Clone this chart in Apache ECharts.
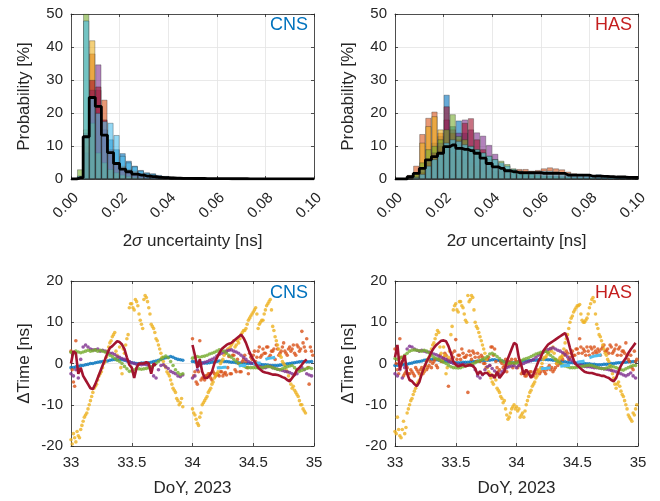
<!DOCTYPE html>
<html><head><meta charset="utf-8">
<script src="https://cdn.jsdelivr.net/npm/echarts@6/dist/echarts.min.js"></script>
<style>html,body{margin:0;padding:0;background:#fff}#c{width:660px;height:501px}</style>
</head><body><div id="c"></div><script>
// ---------- colours ----------
const BLUE='#0072BD',ORANGE='#D95319',YELLOW='#EDB120',PURPLE='#7E2F8E',GREEN='#77AC30',CYAN='#4DBEEE',DRED='#A2142F';

// ---------- histogram data (bin width 0.0025 ns, 0 .. 0.1 ns) ----------
const binWidth = 0.0025;
const cnsBlue   =[0,0.3,8,18,18,15,12,9,7.8,5.5,4,2.7,2,1.7,1.2,0.9,0.7,0.5,0.4,0.3,0.25,0.2,0.15,0.12,0.1,0.1,0.08,0.07,0.06,0.05,0.05,0.04,0.04,0.03,0.03,0.03,0.02,0.02,0.02,0.02];
const cnsOrange =[0,0.5,10,38,27,24,8,5,4,3,2.5,1.8,1.5,1.2,0.9,0.7,0.5,0.4,0.3,0.25,0.2,0.15,0.12,0.1,0.08,0.07,0.06,0.05,0.04,0.04,0.03,0.03,0.03,0.02,0.02,0.02,0.02,0.01,0.01,0.01];
const cnsYellow =[0,0.8,15,42,20,10,5,3,2,1.3,0.9,0.6,0.4,0.3,0.2,0.15,0.1,0.08,0.06,0.05,0.04,0.03,0.03,0.02,0.02,0.02,0.01,0.01,0.01,0.01,0.01,0.01,0,0,0,0,0,0,0,0];
const cnsPurple =[0,0.5,8,27,34.7,15,8,5,3,2,1.4,1,0.7,0.5,0.4,0.3,0.2,0.15,0.1,0.08,0.06,0.05,0.04,0.03,0.03,0.02,0.02,0.02,0.01,0.01,0.01,0.01,0,0,0,0,0,0,0,0];
const cnsDred   =[0,0.5,14,30,28,18,9,5,3,2,1.3,0.9,0.6,0.4,0.3,0.2,0.15,0.1,0.08,0.06,0.05,0.04,0.03,0.03,0.02,0.02,0.02,0.01,0.01,0.01,0.01,0,0,0,0,0,0,0,0,0];
const cnsGreen  =[0,2.9,50,17,8,5,3,2,1.3,0.9,0.6,0.4,0.3,0.2,0.15,0.1,0.08,0.06,0.05,0.04,0.03,0.03,0.02,0.02,0.01,0.01,0.01,0.01,0,0,0,0,0,0,0,0,0,0,0,0];
const cnsCyan   =[0,1,48,25,20,17.5,17,13.3,7,5,3.8,2.5,1.8,1.5,1,0.8,0.6,0.5,0.4,0.3,0.25,0.2,0.15,0.12,0.1,0.08,0.07,0.06,0.05,0.05,0.04,0.04,0.03,0.03,0.03,0.02,0.02,0.02,0.02,0.02];
const cnsMean   =[0,0.4,12.8,24.7,22,13.3,8,4.7,3,2.2,1.5,1.2,0.9,0.7,0.5,0.4,0.3,0.25,0.2,0.2,0.15,0.15,0.12,0.1,0.1,0.1,0.08,0.08,0.07,0.06,0.06,0.05,0.05,0.05,0.04,0.04,0.04,0.03,0.03,0.03];

const hasBlue   =[0,0,0.5,1,3,6,11,13,25.5,16,17.7,14,10,7,5,3.5,2.5,2,1.5,1.3,1.2,1.2,1.2,1.1,1,1,1,1,1,0.9,0.9,0.9,0.8,1.4,0.7,0.6,0.5,0.4,0.3,0.3];
const hasOrange =[0,0.2,1.2,4,13.6,18.5,20.4,14,9,8,7,6,5,4,3.5,3,2.5,2.5,2.4,2.5,3,3,2.5,2.7,3.2,3.5,3.2,2.9,2.2,1.7,1.5,1.2,1,0.9,0.8,0.6,0.5,0.4,0.3,0.3];
const hasYellow =[0,0,0.5,2,11,16,19,15,10,8,6,5,4,3,2.5,2,1.5,1.2,1,0.8,0.6,0.5,0.5,0.4,0.4,0.3,0.3,0.3,0.2,0.2,0.2,0.2,0.1,0.1,0.1,0.1,0.1,0.1,0.1,0.1];
const hasPurple =[0,0,0.3,1,3,6,8,11,18,15,14,18,15,14.1,13.1,10.3,7.6,4.5,3,2,1.5,1.2,1,0.8,0.7,0.6,0.5,0.5,0.4,0.4,0.3,0.3,0.3,0.2,0.2,0.2,0.2,0.1,0.1,0.1];
const hasDred   =[0,0,0,0.5,2,5,8,10,22,14,12,17,18.4,12,9,6,4,3,2,1.5,1.2,1,0.9,0.8,0.7,0.6,0.5,0.5,0.4,0.4,0.3,0.3,0.3,0.2,0.2,0.2,0.1,0.1,0.1,0.1];
const hasGreen  =[0,0,0,1.5,5,9,10,12,15,19.6,13,12,10,9,8,7,6,5.5,4.5,3.2,2.5,2,1.5,1.2,1,0.9,0.8,0.7,0.6,0.5,0.5,0.4,0.4,0.3,0.3,0.3,0.2,0.2,0.2,0.1];
const hasCyan   =[0,0,0.2,0.5,1.5,4,6,8,11,12,11.5,10.5,10,9,8,7,6,5,4,3,2.5,2,2,2.2,2.5,2.5,2.3,2,1.8,1.5,1.3,1.2,1,0.9,0.8,0.6,0.5,0.4,0.3,0.2];
const hasMean   =[0,0,0.7,1.7,3.2,5.8,6.8,7.8,9.8,10.3,9.3,9,8.6,7.8,6.3,4.7,3.7,3.2,2.5,2.2,1.9,1.9,1.9,1.9,1.7,1.7,1.7,1.7,1.2,1.2,1.2,1.2,0.9,0.9,0.8,0.7,0.6,0.6,0.5,0.5];

// ---------- time series (DoY 33.00 .. 34.98, every 0.02 d; "B" sets are the in-between epochs) ----------
const epochStart = 33.0, epochStep = 0.02;
const N=null;
const cnsTBlue=[-1,-1,-0.8,-0.7,-0.5, -0.5,-0.3,-0.2,0,0, 0.2,0.3,0.4,0.5,0.5, 0.6,0.8,0.9,1,1, 1,0.9,0.8,0.6,0.4, 0.2,0.1,0,0,0.1, 0.1,0.1,0.2,0.3,0.5, 0.6,0.8,1,1.2,1.4, 1.5,1.7,1.5,1.2,1, 0.9,0.8,N,N,N,
 0.5,0.4,0.3,0.2,0.2, 0.1,0.1,0.2,0.3,0.4, 0.5,0.6,0.6,0.5,0.5, 0.4,0.3,0.3,0.2,0.2, 0.1,0.1,0,0,0, 0,0,-0.1,-0.2,-0.3, -0.3,-0.4,-0.5,-0.5,-0.5, -0.5,-0.4,-0.3,-0.2,-0.1, 0,0.1,0.2,0.3,0.4, 0.5,0.5,0.4,0.4,0.5];
const cnsTOrange=[3,-4.5,5.5,N,N, N,N,N,N,N, N,N,N,N,N, N,N,N,N,N, N,N,N,N,N, N,N,N,N,N, N,N,N,N,N, N,N,N,N,N, N,N,N,N,N, N,N,N,N,N,
 6,-2,-5,5.5,-3.5, -4,-3,-2.5,-4,-2.5, -2.5,-3,-2,-2.5,-2.8, 1.7,-2.5,2,-2,0, -2,1,0.5,-2.5,1.5, 2,0.5,3,1.5,3.5, 2.5,4,2,3,1, 3.5,2.5,4,3,2, 4,3.5,2.5,4.5,3, 7.8,4,6,-5,3];
const cnsTOrangeB=[-1.5,-5.5,N,N,N, N,N,N,N,N, N,N,N,N,N, N,N,N,N,N, N,N,N,N,N, N,N,N,N,N, N,N,N,N,N, N,N,N,N,N, N,N,N,N,N, N,N,N,N,N,
 -3,-4.5,-2,-4,-3.5, -3,-2.5,-3.5,-2,-3, -2.7,-2,-3,-2.2,-1, -2.5,2,-1.5,1,-2, 0.5,2,-1,2.5,1, 3,1.5,4,2,2.5, 4,1.5,3,3.5,4.5, 2,3,5,2.5,3.5, 3,4.5,2,4,3.5, 5,3,-1,4,2];
const cnsTYellow=[-18.5,-17,-19,-17.5,-16, -14,-12.5,-11,-9,-7, -5.5,-4,-2.5,-1,0.5, 3,5,6.5,7.5,2, 4,-2.5,2.5,6,13.5, 14.5,13,15,12,9.5, 15.5,16,13.5,9.5,8.5, 6,4.5,2.5,0.5,-1, -2.5,-4,-6,-7,-9, -9.5,-10.5,N,N,N,
 -11,-12.5,-14.5,-13,-10, -9,-8,-6.5,-5,-3.5, -2.5,-1,0.5,2,3, 3.5,4.5,5.5,4.5,5, 7,8,8.5,10.5,11.5, 12.5,13.5,8.5,10,10.5, 13,14.5,15.5,9,6.5, 4.5,2,0.5,-0.5,-2, -4,-6,-6.5,-7.5,-9, -10,-11.5,N,N,N];
const cnsTYellowB=[-19.5,-18,-16.5,-18,-15, -13,-12,-10,-8,-6, -5,-3,-2,0,1.5, 4,5.5,7,3,1.5, -1,3.5,4.5,7,14.5, 13.5,15.5,14,10.5,8.5, 16.5,15,12,9,7.5, 5.5,3.5,1.5,-0.5,-2, -3,-5,-6.5,-8.5,-10, -8.5,N,N,N,N,
 -12,-13.5,-15,-12,-9.5, -8.5,-7,-6,-4.5,-3, -2,0,1,2.5,3.5, 4,5,4,5.5,6, 7.5,8,9.5,11,12, 13,12,9.5,10.5,12, 14,15,13,8,5.5, 3.5,1.5,0,-1.5,-3, -5,-5.5,-7,-8,-10, -11,-12,N,N,N];
const cnsTPurple=[-2.5,-3,-1.5,-3.5,1, 4,4.5,4,3.5,3.3, 3.3,3.5,3,3.2,3, 2.8,2.5,2.5,2.2,1.7, 1.5,1.2,1,0.8,0.5, 0.2,0,-0.2,-0.2,-0.3, -0.2,-0.3,-0.5,-1,-3, -3.5,-1.5,-0.5,-0.3,-0.8, -1.2,-1.9,-2.2,-2.5,-3, -3.2,-2.8,N,N,N,
 -3.5,-3,-1.5,-0.5,0, 0.3,0.5,0.8,1,1.3, 1.8,2.2,2.5,2.8,3, 3.2,3.3,3,2.8,2.5, 2,1.5,1,0.5,0.2, 0,-0.3,-0.5,-0.8,-1, -1,-0.8,-0.7,-1,-1.2, -1.4,-1.5,-1.7,-1.9,-2, -2.2,-2.5,-2.7,-2.5,-1.5, -1,-1.5,-2.5,-2.8,-3];
const cnsTGreen=[2.7,2.5,3,2.8,2.6, 2.8,3,3.2,3,3.1, 3.3,3,3.2,3,2.8, 2.5,2,1.7,1.2,0.8, 0.5,0,-0.7,-1.3,-1.9, -1.8,-1.5,-1.3,-1.3,-1.4, -1.3,-1.2,-1,-0.8,-0.5, 0,0.5,1,1.5,1.8, 1.4,0.5,-0.5,-1.5,-2.2, -2.7,-2.5,N,N,N,
 1.3,1.5,1.7,1.5,1.7, 1.8,2,2.3,2.5,2.7, 3,3.3,3.2,3,2.5, 2,1.5,1,0.5,0, -0.3,-0.6,-0.9,-1,-1, -1,-1,-1.1,-1,-1, -0.8,-0.7,-0.8,-1,-1.2, -1.4,-1.5,-1.3,-1,-0.8, -0.6,-0.5,-1,-1.5,-1.9, -1.7,-1.4,-1.2,-1,-1.2];
const cnsTCyan=[N,N,N,N,N, N,N,N,N,N, N,N,N,N,N, N,N,N,N,N, N,N,N,N,N, N,N,N,N,N, N,N,N,N,N, N,N,N,N,N, N,N,N,N,N, N,N,N,N,N,
 N,N,N,N,N, N,N,N,N,N, -1.1,-1,-1,-0.9,-0.9, N,N,N,N,-0.6, -0.5,-0.5,-0.4,N,N, 0,0,0.1,0.1,N, 1,1.2,1.3,1.4,1.5, N,N,N,N,N, N,N,N,N,N, N,N,N,N,N];
const cnsTDred=[0,3,2.5,-2.5,-1, -3,-4,-5,-6,-6.2, -5,-3.5,-2,-0.5,1, 2.5,3.8,4.2,4.8,5.4, 5.2,4.6,3.5,1.5,-0.3, -1,-3.5,-1,0,0, 0,0.3,0,-2.5,0, -0.5,N,N,N,N, N,N,N,N,N, N,N,N,N,N,
 4.5,2,-1,1,-2, -3.5,-3.5,-3,-2,0, 1.3,2.5,3.5,4,4.5, 4.8,5,5.5,6,6.5, 7,6.2,5,3.4,2, 1,0,-1,-1.5,-2, -2.2,-2.3,-2.5,-2.7,-2.7, -2.8,-3,-3.3,-3.5,-4, -4.3,-3.5,-2.7,-1.5,-1, -0.3,0.5,1,N,N];

const hasTBlue=[-0.5,-0.4,-0.4,-0.3,-0.2, -0.2,0,0.1,0.3,0.4, 0.5,0.6,0.8,0.9,1, 1,1,0.9,0.8,0.7, 0.6,0.5,0.4,0.3,0.3, 0.2,0.2,0.2,0.3,0.3, 0.3,0.4,0.5,0.5,0.6, 0.6,0.7,0.7,0.8,0.8, 0.9,0.9,0.8,0.7,0.6, 0.5,0.4,0.3,0.2,0.2,
 0.3,0.4,0.5,0.6,0.6, 0.7,0.7,0.8,0.8,0.9, 0.9,1,1,0.9,0.9, 0.8,0.8,0.7,0.6,0.5, 0.4,0.3,0.2,0.2,0.1, 0.1,0,0,0,-0.1, -0.1,-0.2,-0.2,-0.3,-0.3, -0.3,-0.2,-0.2,-0.1,0, 0,0.1,0.2,0.2,0.3, 0.3,0.4,0.4,0.5,0.5];
const hasTOrange=[3.5,-1.5,6,0.5,-2.5, -1,-2.5,-2,-3,-1.5, -2.5,-1,-2,-1.5,-0.5, -1,0.5,-0.5,1,0.5, 1.5,2,-5.5,1,1.5, 5.8,2,1,2.5,1.5, -7,2,3,1.5,2.5, 0.5,1.5,0,1,-0.5, 4,3.5,-1,-1.5,0, -0.5,-2,0.5,1,0,
 0.5,-0.5,-2.5,-2,-3, -2.5,-2,-3,-2.5,-2, -2,-1.5,-2.5,-1,-1.5, -2,-1,-0.5,0,1, 2,2.5,1.5,3,2, 3.5,6,2.5,3,4, 2,3.5,4,2.5,3, 3.5,4.5,3,2.5,4, 3,4.5,3.5,2,3, 5,1,2,-1.5,0.5];
const hasTOrangeB=[0,-2.5,1.5,-3,-2, -2.5,-1.5,-2.5,-1,-2, -1.5,-2.5,-0.5,-1,0.5, 0,1,-1,2,0.5, 2.5,1,0.5,2.5,3, 1,2,3.5,1.5,2, 3,1,2.5,0.5,1.5, 2,0,-1,1.5,4, 2,0.5,-2,0.5,-1, 1,-0.5,0,-1,1,
 -1,0,-2,-3,-2.5, -2,-3,-2,-1.5,-2.5, -1,-2,-1.5,-0.5,-1, -1.5,0,0.5,1.5,2.5, 3,1,2.5,2,3.5, 2.5,4,3.5,2,3, 4,2.5,3,3.5,2, 4,3,3.5,4.5,2.5, 3.5,2,4,3,2.5, 2,0.5,-1,3,1];
const hasTYellow=[-16.5,-13,-17.5,-16,-17, -12,-10,-8.5,-6.7,-5, -4,-2.5,-1.5,0.5,1.5, 3.5,5,7,7.5,2.5, 4,-2.5,1.5,7,13, 14.5,12.5,15,13.5,10.5, 16.5,15.5,16,10,8.5, 6.5,4.5,2.5,-1,-2.5, -4.5,-3,-6,-7,-8.5, -9,-12.5,-13,-11,-10,
 -10.5,-11,-12.5,-13,-10, -8,-6.5,-5,-3.5,-2, -1,1,1.5,2.5,3.5, 4,1,0.5,1.5,2, 5,7,10,11.5,13, 14,14.3,10.5,10,11, 13.5,15.5,15,9.5,7, 5.5,3.5,2,0.5,-1.5, -3.5,-6,-4.5,-6.7,-8, -10,-12.5,-13.5,-12,-11];
const hasTYellowB=[-17,-16,-18,-14,-15.5, -11,-9,-7.5,-6,-4.5, -3,-2,-0.5,1,2.5, 4.5,6,8,4,1, 2,-1,3,9,14, 13,15,14,12,10, 15,16.5,13,9,7.5, 5.5,3.5,1,-2,-3.5, -5,-4,-6.5,-8,-9.5, -11,-13.5,-12,-10.5,-11,
 -11.5,-13,-12,-11.5,-9, -7,-5.5,-4.5,-3,-1.5, 0,1.5,2,3,3, 2.5,0,1,1.5,3.5, 6,8.5,11,12.5,13.5, 14,12,10,10.5,12, 14.5,16,12,8.5,6.5, 4.5,2.5,1,-0.5,-2.5, -5,-5,-5.5,-7.5,-9, -11,-13,-14,-12.5,-10];
const hasTPurple=[-2.5,-3,-1.5,-3.5,-1, 3.5,4.2,4,3.5,3.2, 3,3.2,3,2.8,2.8, 2.5,2.3,2.1,1.8,1.5, 1.2,1,0.6,0.3,0, -0.1,-0.3,-0.3,-0.2,-0.3, -0.3,-0.4,-0.5,-1.5,-3, -3.5,-2.7,-1.5,-0.8,-0.5, -1.2,-1.8,-2.5,-2.7,-2, -1.5,-1,-0.8,-0.6,-0.5,
 -1,-0.5,-0.2,0,0.3, 0.5,0.7,1,1.5,2, 2.3,2.7,3,3.4,3.6, 3.8,3.5,3.2,3,2.6, 2.2,1.6,1,0.6,0.2, 0,-0.3,-0.5,-0.7,-0.8, -0.8,-0.9,-1,-1,-1.1, -1.2,-1.3,-1.4,-1.5,-1.7, -1.8,-2,-2.3,-2.5,-2.8, -3,-2.7,-2.3,-3,-3.5];
const hasTGreen=[1.2,1,1.3,1.5,2, 2.5,3,3.2,3.3,3.2, 3.1,3,3.2,3,2.6, 2,1.5,1.2,1,0.6, 0.3,0,-0.4,-0.8,-1, -1,-1.1,-1,-0.8,-0.6, -0.4,-0.3,-0.1,0.2,0.5, 0.8,1,1.3,1.7,2.3, 2.5,2.2,1.7,1.2,0.7, 0.3,0.1,0,0.2,0.1,
 0.1,0.4,0.7,1,1.2, 1.4,1.7,2,2.3,2.5, 2.7,2.8,3,2.6,2, 1.5,1,0.5,0.1,-0.3, -0.6,-0.8,-1,-1,-1, -0.9,-0.8,-0.7,-0.6,-0.5, -0.4,-0.5,-0.7,-0.9,-1.1, -1.2,-1.3,-1.1,-0.9,-0.7, -0.8,-1,-1.2,-1.5,-1.6, -1.3,-1,-0.7,-0.5,-0.5];
const hasTCyan=[N,N,N,N,N, N,N,N,N,N, N,N,N,N,N, N,N,N,N,N, N,N,N,N,N, N,N,N,N,N, N,N,N,N,N, N,N,N,N,N, N,N,N,N,N, N,N,N,N,N,
 N,N,N,N,N, N,N,N,N,N, -1.3,-1.2,-1.2,-1.1,-1.1, N,N,N,-0.7,-0.6, -0.5,-0.5,-0.4,N,N, 0.3,0.4,0.5,0.6,N, 1.4,1.6,1.8,1.9,2, 2.1,N,N,N,N, N,N,N,N,N, N,N,N,N,N];
const hasTDred=[1.5,4.5,-1.5,0.5,2, -2.5,-4,-4.3,-5,-5.5, -4.5,-2.5,-1,0.5,1.5, 2.8,3.8,4.5,5,5.5, 5.6,5.4,4.2,2.5,0.5, -0.3,-0.7,-0.5,-0.3,-0.7, -0.5,-0.3,-0.6,-1.2,-2.7, -1.9,-2.7,-2.3,-2.3,-3, -2.7,-3.5,-2,-3.5,-2.7, -2,0.5,2,3.5,5,
 4.6,1.3,-0.5,-2.7,-1.5, -2.3,-3.5,-2.5,-1,0.5, 1.5,3,3.8,4.6,5, 5.4,5.8,6.2,6.6,7, 7.4,6,3.8,1.7,0.1, -0.5,-1,-1.5,-2,-2.2, -2.3,-2.3,-2.5,-2.7,-2.8, -3,-3,-3.3,-3.5,-4, -4.3,-3.5,-1.9,-0.5,0.5, 1.3,2.5,3.4,4.2,5];

// ---------- helpers ----------
const epochs = cnsTBlue.map((_,k)=>+(epochStart + k*epochStep).toFixed(3));
const binCenters = cnsMean.map((_,i)=>+((i+0.5)*binWidth).toFixed(5));
const FONT='Liberation Sans', TXT='#262626';
const pts = (vals,off=0) => vals.map((v,k)=>[+(epochs[k]+off).toFixed(3),v]).filter(p=>p[1]!==null);
const linePts = vals => vals.map((v,k)=>[epochs[k], v===null?'-':v]);
const barPts = vals => vals.map((v,i)=>[binCenters[i],v]);
const stairPts = vals => [[0,vals[0]]].concat(barPts(vals)).concat([[0.1,vals[vals.length-1]]]);

const grids=[
  {left:71,top:14,width:243,height:165},
  {left:395,top:14,width:243,height:165},
  {left:71,top:281,width:243,height:165},
  {left:395,top:281,width:243,height:165}
];
const lineStyle={color:TXT,width:0.8};
const split={show:true,lineStyle:{color:'#e3e3e3',width:0.8}};
const tick={show:true,inside:true,length:3,lineStyle:{color:TXT,width:0.8}};
const xAxes=[],yAxes=[];
grids.forEach((g,i)=>{
  const top=i<2;
  const xr= top?{min:0,max:0.1,interval:0.02}:{min:33,max:35,interval:0.5};
  const yr= top?{min:0,max:50,interval:10}:{min:-20,max:20,interval:10};
  xAxes.push(Object.assign({type:'value',gridIndex:i,position:'bottom',axisLine:{show:true,onZero:false,lineStyle},axisTick:tick,splitLine:split,
    axisLabel:top?{rotate:45,align:'right',verticalAlign:'top',margin:11,fontFamily:FONT,fontSize:15,color:TXT,formatter:v=>v.toFixed(2)}
                 :{margin:9,fontFamily:FONT,fontSize:15,color:TXT,formatter:v=>String(+v.toFixed(1))},
    name: top?'2{i|σ} uncertainty [ns]':'DoY, 2023',nameLocation:'middle',nameGap: top?54:34,
    nameTextStyle:{fontFamily:FONT,fontSize:17,color:TXT,rich:{i:{fontFamily:FONT,fontSize:17,fontStyle:'italic',color:TXT}}}},xr));
  yAxes.push(Object.assign({type:'value',gridIndex:i,position:'left',axisLine:{show:true,onZero:false,lineStyle},axisTick:tick,splitLine:split,
    axisLabel:{margin:8,fontFamily:FONT,fontSize:15,color:TXT},
    name: top?'Probability [%]':'ΔTime [ns]',nameLocation:'middle',nameGap: 38,
    nameTextStyle:{fontFamily:FONT,fontSize:17,color:TXT}},yr));
});
grids.forEach((g,i)=>{
  const top=i<2;
  const xr= top?{min:0,max:0.1,interval:0.02}:{min:33,max:35,interval:0.5};
  const yr= top?{min:0,max:50,interval:10}:{min:-20,max:20,interval:10};
  xAxes.push(Object.assign({type:'value',gridIndex:i,position:'top',axisLine:{show:true,onZero:false,lineStyle},axisTick:tick,axisLabel:{show:false},splitLine:{show:false}},xr));
  yAxes.push(Object.assign({type:'value',gridIndex:i,position:'right',axisLine:{show:true,onZero:false,lineStyle},axisTick:tick,axisLabel:{show:false},splitLine:{show:false}},yr));
});

const series=[];
function hist(gi, arrs, mean){
  arrs.forEach(([vals,col])=>{
    series.push({type:'bar',xAxisIndex:gi,yAxisIndex:gi,data:barPts(vals),barWidth:6,barGap:'-100%',
      itemStyle:{color:col,opacity:0.6,borderColor:'rgba(30,30,30,0.75)',borderWidth:0.7},silent:true,animation:false});
  });
  series.push({type:'line',xAxisIndex:gi,yAxisIndex:gi,data:stairPts(mean),step:'middle',symbol:'none',
    lineStyle:{color:'#000',width:2.8},z:5,animation:false});
}
hist(0,[[cnsBlue,BLUE],[cnsOrange,ORANGE],[cnsYellow,YELLOW],[cnsPurple,PURPLE],[cnsDred,DRED],[cnsGreen,GREEN],[cnsCyan,CYAN]],cnsMean);
hist(1,[[hasBlue,BLUE],[hasOrange,ORANGE],[hasYellow,YELLOW],[hasPurple,PURPLE],[hasDred,DRED],[hasGreen,GREEN],[hasCyan,CYAN]],hasMean);

function ts(gi, sets){
  sets.forEach(([vals,col,kind,off])=>{
    if(kind==='dots'){
      series.push({type:'scatter',xAxisIndex:gi,yAxisIndex:gi,data:pts(vals,off||0),symbol:'circle',symbolSize:3.6,
        itemStyle:{color:col},animation:false,silent:true,large:false});
    } else if(kind==='dash'){
      series.push({type:'line',xAxisIndex:gi,yAxisIndex:gi,data:linePts(vals),symbol:'none',connectNulls:false,
        lineStyle:{color:col,width:3},animation:false,z:3});
    } else {
      series.push({type:'line',xAxisIndex:gi,yAxisIndex:gi,data:linePts(vals),symbol:'none',connectNulls:false,
        lineStyle:{color:col,width:2.6},animation:false,z:4});
    }
  });
}
const half=epochStep/2;
ts(2,[[cnsTBlue,BLUE,'dots'],[cnsTOrange,ORANGE,'dots'],[cnsTOrangeB,ORANGE,'dots',half],[cnsTYellow,YELLOW,'dots'],[cnsTYellowB,YELLOW,'dots',half],
      [cnsTPurple,PURPLE,'dots'],[cnsTGreen,GREEN,'dots'],[cnsTCyan,CYAN,'dash'],[cnsTDred,DRED,'line']]);
ts(3,[[hasTBlue,BLUE,'dots'],[hasTOrange,ORANGE,'dots'],[hasTOrangeB,ORANGE,'dots',half],[hasTYellow,YELLOW,'dots'],[hasTYellowB,YELLOW,'dots',half],
      [hasTPurple,PURPLE,'dots'],[hasTGreen,GREEN,'dots'],[hasTCyan,CYAN,'dash'],[hasTDred,DRED,'line']]);

const tag=(txt,col,right,top)=>({type:'text',right,top,z:100,style:{text:txt,fill:col,font:'18px "Liberation Sans"'}});
const chart=echarts.init(document.getElementById('c'),null,{renderer:'canvas'});
chart.setOption({
  animation:false,backgroundColor:'#fff',
  grid:grids,xAxis:xAxes,yAxis:yAxes,series,
  graphic:[tag('CNS','#0072BD',352,16),tag('HAS','#C41E1E',28,16),tag('CNS','#0072BD',352,284),tag('HAS','#C41E1E',28,284)]
});
</script></body></html>
